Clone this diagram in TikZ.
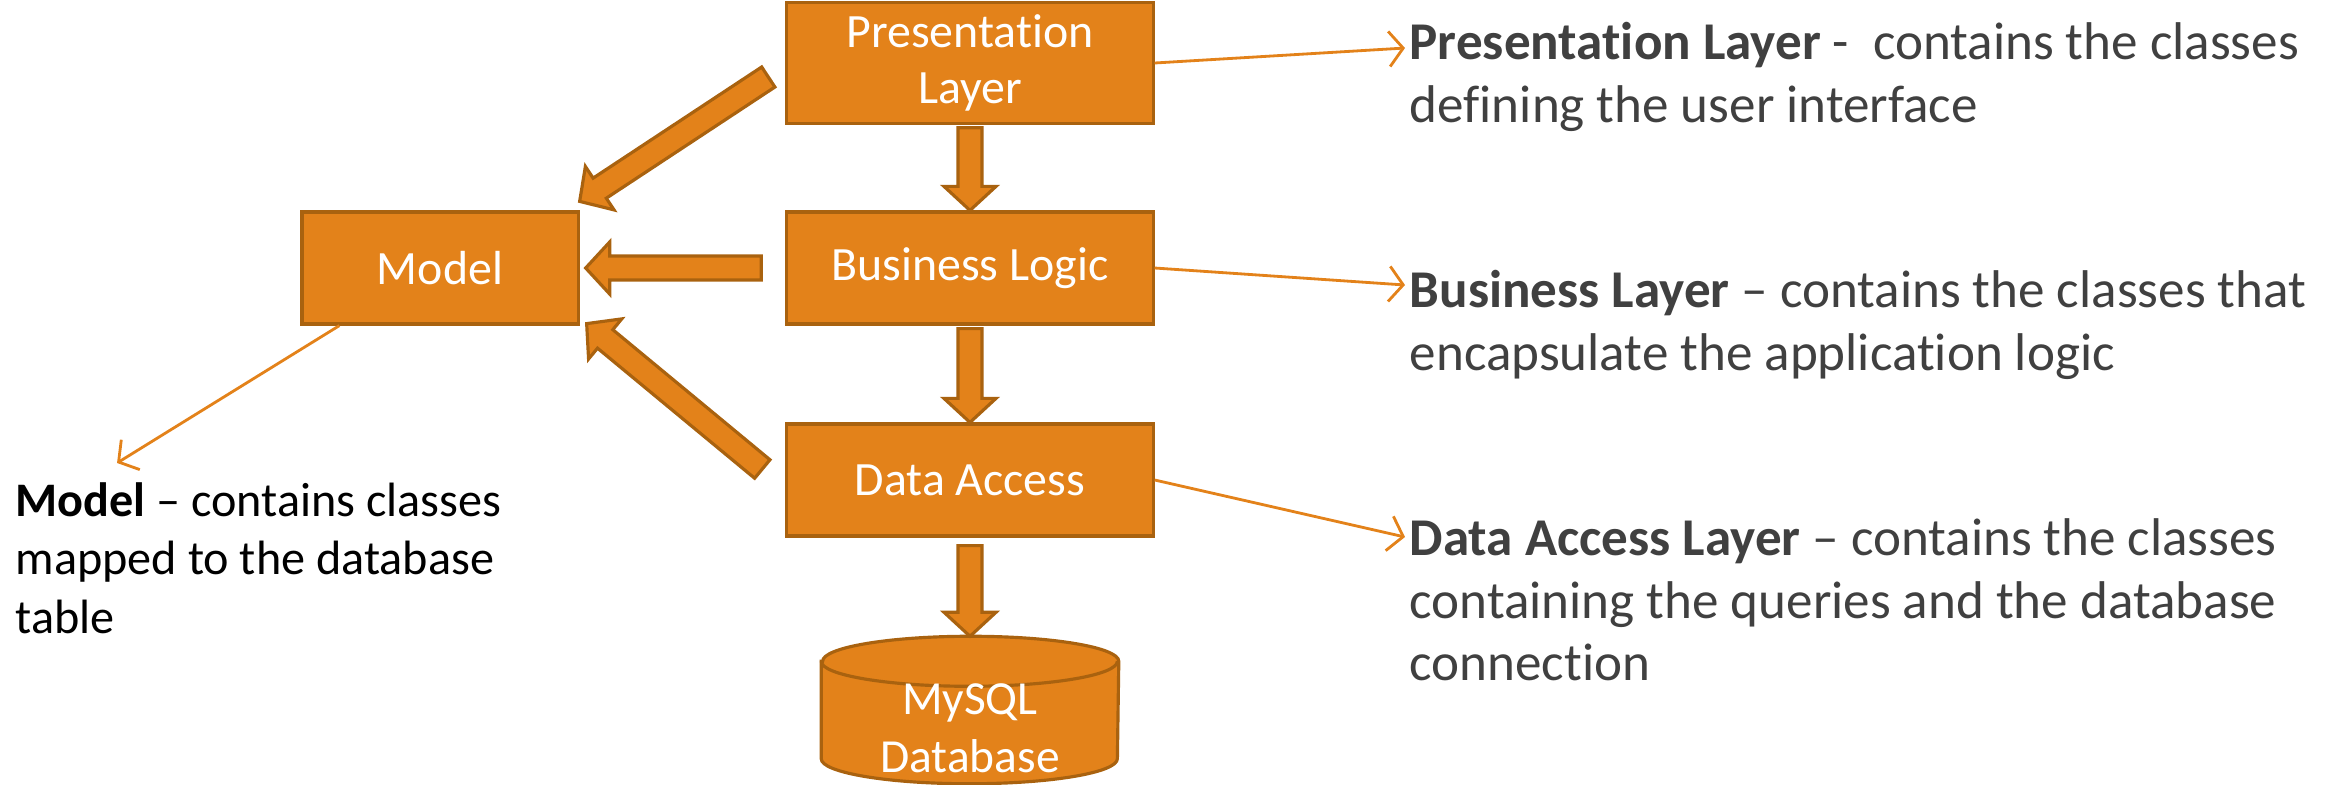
\documentclass[tikz,border=0pt]{standalone}
\usepackage{fontspec}
\setmainfont{Carlito}[Ligatures=NoCommon]
\usetikzlibrary{calc,arrows.meta,backgrounds}
\definecolor{boxorange}{HTML}{E3821A}
\definecolor{boxedge}{HTML}{A9620F}
\definecolor{notegray}{HTML}{404040}
% block arrow from #1 to the tip #2
\newcommand{\fatarrow}[2]{
	\coordinate (fa-a) at (#1);
	\coordinate (fa-b) at (#2);
	\coordinate (fa-c) at ($(fa-b)!0.24cm!(fa-a)$);
	\filldraw[fat] ($(fa-a)!0.12cm!90:(fa-b)$) -- ($(fa-c)!0.12cm!90:(fa-b)$) -- ($(fa-c)!0.26cm!90:(fa-b)$) -- (fa-b)
		-- ($(fa-c)!0.26cm!-90:(fa-b)$) -- ($(fa-c)!0.12cm!-90:(fa-b)$) -- ($(fa-a)!0.12cm!-90:(fa-b)$) -- cycle;
}
\begin{document}
\begin{tikzpicture}[x=0.01cm,y=0.01cm,
	layer/.style={fill=boxorange, draw=boxedge, line width=0.9pt, text=white, minimum width=3.66cm, minimum height=1.12cm, align=center, font=\fontsize{13.6}{16}\selectfont},
	fat/.style={fill=boxorange, draw=boxedge, line width=0.9pt},
	note/.style={draw=boxorange, line width=0.8pt, -{Straight Barb[length=4pt,width=10pt]}},
	desc/.style={anchor=north west, inner sep=0pt, align=left, text=notegray, font=\fontsize{15.1}{17.8}\selectfont}]
	\useasboundingbox (0,0) rectangle (2341,-784);

	\node[layer] (pres) at (970,-63) {Presentation\\Layer};
	\node[layer] (busi) at (970,-268) {Business Logic};
	\node[layer] (data) at (970,-480) {Data Access};
	\node[layer, minimum width=2.76cm] (model) at (440,-268) {Model};
	\node[minimum width=2.96cm, minimum height=1.46cm, inner sep=0pt] (db) at (970,-710) {};
	\begin{scope}[on background layer]
		\filldraw[fat] ([yshift=-0.25cm]db.north west) -- ([yshift=0.25cm]db.south west)
			arc[start angle=180, end angle=360, x radius=1.48cm, y radius=0.25cm]
			-- ([yshift=-0.25cm]db.north east)
			arc[start angle=0, end angle=180, x radius=1.48cm, y radius=0.25cm] -- cycle;
		\draw[fat, fill=none] ([yshift=-0.25cm]db.north west) arc[start angle=180, end angle=360, x radius=1.48cm, y radius=0.25cm];
	\end{scope}
	\node[text=white, align=center, font=\fontsize{13.5}{16.5}\selectfont] (dbtext) at ([yshift=-0.18cm]db.center) {MySQL\\Database};

	\fatarrow{[yshift=-0.03cm]pres.south}{busi.north}
	\fatarrow{[yshift=-0.03cm]busi.south}{data.north}
	\fatarrow{[yshift=-0.08cm]data.south}{db.north}
	\fatarrow{[xshift=-0.24cm]busi.west}{[xshift=0.06cm]model.east}
	\fatarrow{[xshift=-0.17cm,yshift=-0.14cm]pres.west}{[yshift=0.09cm]model.north east}
	\fatarrow{[xshift=-0.23cm,yshift=0.11cm]data.west}{[xshift=0.07cm,yshift=0.02cm]model.south east}

	\node[desc] (n1) at (1409,-22) {\textbf{Presentation Layer} -\ \ contains the classes\\defining the user interface};
	\node[desc] (n2) at (1409,-270) {\textbf{Business Layer} – contains the classes that\\encapsulate the application logic};
	\node[desc] (n3) at (1409,-518) {\textbf{Data Access Layer} – contains the classes\\containing the queries and the database\\connection};
	\node[desc, text=black, font=\fontsize{13.7}{16.6}\selectfont] (n4) at (15,-482) {\textbf{Model} – contains classes\\mapped to the database\\table};

	\draw[note] (pres.east) -- ([xshift=-0.04cm,yshift=-0.26cm]n1.north west);
	\draw[note] (busi.east) -- ([xshift=-0.04cm,yshift=-0.15cm]n2.north west);
	\draw[note] (data.east) -- ([xshift=-0.04cm,yshift=-0.19cm]n3.north west);
	\draw[note] ([xshift=0.39cm]model.south west) -- ([xshift=1.02cm,yshift=0.19cm]n4.north west);
\end{tikzpicture}
\end{document}
